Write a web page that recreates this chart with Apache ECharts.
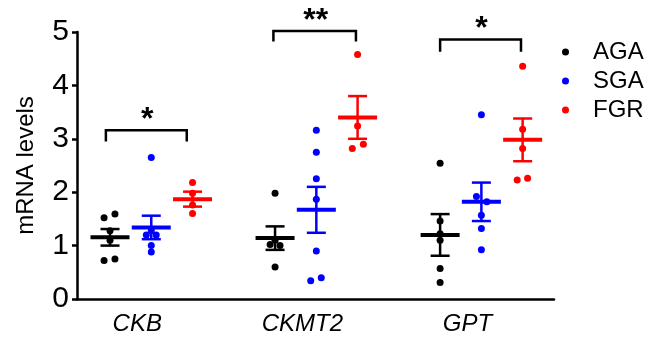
<!DOCTYPE html>
<html>
<head>
<meta charset="utf-8">
<script src="https://cdn.jsdelivr.net/npm/echarts@6.0.0/dist/echarts.min.js"></script>
<style>
  html, body { margin: 0; padding: 0; background: #fff; }
  #chart { width: 656px; height: 337px; }
</style>
</head>
<body>
<div id="chart"></div>
<script>
// genes on the x axis, groups inside each gene
const genes = ['CKB', 'CKMT2', 'GPT'];
const groups = ['AGA', 'SGA', 'FGR'];
const groupColors = ['#000000', '#0000ff', '#ff0000'];
const groupOffset = [-0.25, 0, 0.25];

// individual points per group, one list per gene
const agaValues = [
  [1.59, 1.52, 1.28, 1.10, 0.75, 0.72],
  [1.98, 1.10, 1.02, 1.00, 0.60],
  [2.54, 1.46, 1.22, 1.10, 0.57, 0.31]
];
const agaJitter = [
  [0.03, -0.036, 0, 0, 0.03, -0.036],
  [0, 0, -0.03, 0.03, 0],
  [0, 0, 0, 0, 0, 0]
];
const sgaValues = [
  [2.65, 1.28, 1.20, 1.20, 1.00, 0.88],
  [3.16, 2.75, 2.25, 1.87, 0.90, 0.40, 0.34],
  [3.45, 1.92, 1.82, 1.57, 1.32, 0.92]
];
const sgaJitter = [
  [0, 0, -0.03, 0.03, 0, 0],
  [0, 0, 0, 0, 0, 0.03, -0.034],
  [0, -0.03, 0.033, 0, 0, 0]
];
const fgrValues = [
  [2.18, 1.98, 1.76, 1.60],
  [4.58, 3.24, 2.90, 2.82],
  [4.36, 3.18, 2.82, 2.26, 2.23]
];
const fgrJitter = [
  [0, 0, 0, 0],
  [0, 0, 0.035, -0.032],
  [0, 0, 0, 0.03, -0.033]
];

// mean and SEM per gene
const agaMean = [1.155, 1.14, 1.20];
const agaSem = [0.155, 0.22, 0.39];
const sgaMean = [1.34, 1.67, 1.82];
const sgaSem = [0.22, 0.43, 0.36];
const fgrMean = [1.87, 3.40, 2.98];
const fgrSem = [0.14, 0.40, 0.40];

// significance brackets AGA vs FGR
const sigLabels = ['*', '**', '*'];
const bracketTop = [3.16, 5.02, 4.86];
const bracketDrop = [2.95, 4.82, 4.63];
const bracketLeft = [-0.275, -0.26, -0.25];
const bracketRight = [0.215, 0.24, 0.24];

const yTicks = [0, 1, 2, 3, 4, 5];

const allValues = [agaValues, sgaValues, fgrValues];
const allJitter = [agaJitter, sgaJitter, fgrJitter];
const allMean = [agaMean, sgaMean, fgrMean];
const allSem = [agaSem, sgaSem, fgrSem];

const FONT = '"Liberation Sans", Arial, sans-serif';

const chart = echarts.init(document.getElementById('chart'));

const series = [];
groups.forEach((g, gi) => {
  const pts = [];
  allValues[gi].forEach((vals, k) => {
    vals.forEach((v, j) => pts.push([k + groupOffset[gi] + allJitter[gi][k][j], v]));
  });
  series.push({
    name: g,
    type: 'scatter',
    data: pts,
    symbol: 'circle',
    symbolSize: 7,
    itemStyle: { color: groupColors[gi], opacity: 1 },
    z: 3
  });
  series.push({
    type: 'custom',
    data: genes.map((_, k) => [k + groupOffset[gi], allMean[gi][k], allSem[gi][k]]),
    renderItem: function (params, api) {
      const x = api.value(0), m = api.value(1), s = api.value(2);
      const c = api.coord([x, m]);
      const t = api.coord([x, m + s]);
      const b = api.coord([x, m - s]);
      const col = groupColors[gi];
      return {
        type: 'group',
        children: [
          { type: 'line', shape: { x1: c[0] - 19.5, y1: c[1], x2: c[0] + 19.5, y2: c[1] }, style: { stroke: col, lineWidth: 4 } },
          { type: 'line', shape: { x1: c[0], y1: t[1], x2: c[0], y2: b[1] }, style: { stroke: col, lineWidth: 2.5 } },
          { type: 'line', shape: { x1: c[0] - 9.5, y1: t[1], x2: c[0] + 9.5, y2: t[1] }, style: { stroke: col, lineWidth: 2.5 } },
          { type: 'line', shape: { x1: c[0] - 9.5, y1: b[1], x2: c[0] + 9.5, y2: b[1] }, style: { stroke: col, lineWidth: 2.5 } }
        ]
      };
    },
    z: 4
  });
});

// brackets with stars
series.push({
  type: 'custom',
  clip: false,
  data: genes.map((_, k) => [k + bracketLeft[k], k + bracketRight[k], bracketTop[k], bracketDrop[k], k]),
  renderItem: function (params, api) {
    const l = api.coord([api.value(0), api.value(2)]);
    const r = api.coord([api.value(1), api.value(2)]);
    const d = api.coord([api.value(0), api.value(3)]);
    const k = api.value(4);
    return {
      type: 'group',
      children: [
        {
          type: 'polyline',
          shape: { points: [[l[0], d[1]], [l[0], l[1]], [r[0], r[1]], [r[0], d[1]]] },
          style: { stroke: '#000', lineWidth: 2.5, fill: null }
        },
        {
          type: 'text',
          style: {
            text: sigLabels[k],
            x: (l[0] + r[0]) / 2 + 1,
            y: l[1] - 10,
            align: 'center',
            verticalAlign: 'middle',
            font: 'bold 32px ' + FONT,
            fill: '#000'
          }
        }
      ]
    };
  },
  z: 5
});

const option = {
  animation: false,
  grid: { left: 77, right: 102, top: 32, bottom: 38 },
  legend: {
    orient: 'vertical',
    left: 557,
    top: 35,
    itemWidth: 7,
    itemHeight: 7,
    itemGap: 5,
    data: groups.map(g => ({ name: g, icon: 'circle' })),
    textStyle: {
      fontSize: 24,
      fontFamily: FONT,
      color: '#000',
      padding: [0, 0, 0, 19]
    }
  },
  xAxis: {
    type: 'value',
    min: -0.45,
    max: 2.44,
    splitLine: { show: false },
    axisLine: { lineStyle: { color: '#000', width: 2.5 } },
    axisTick: { show: false },
    axisLabel: {
      customValues: [0, 1, 2],
      formatter: v => genes[Math.round(v)],
      fontSize: 24,
      fontStyle: 'italic',
      fontFamily: FONT,
      color: '#000',
      margin: 13,
      padding: [0, 28, 0, 0]
    }
  },
  yAxis: {
    type: 'value',
    min: 0,
    max: 5,
    interval: 1,
    name: 'mRNA levels',
    nameLocation: 'middle',
    nameGap: 39,
    nameTextStyle: {
      fontSize: 24,
      fontFamily: FONT,
      color: '#000'
    },
    splitLine: { show: false },
    axisLine: { show: true, onZero: false, lineStyle: { color: '#000', width: 2.5 } },
    axisTick: { show: true, length: 5, lineStyle: { color: '#000', width: 2.5 } },
    axisLabel: {
      formatter: v => (yTicks.indexOf(v) >= 0 ? String(v) : ''),
      fontSize: 30,
      fontFamily: FONT,
      color: '#000',
      margin: 8
    }
  },
  series: series
};

chart.setOption(option);
</script>
</body>
</html>
